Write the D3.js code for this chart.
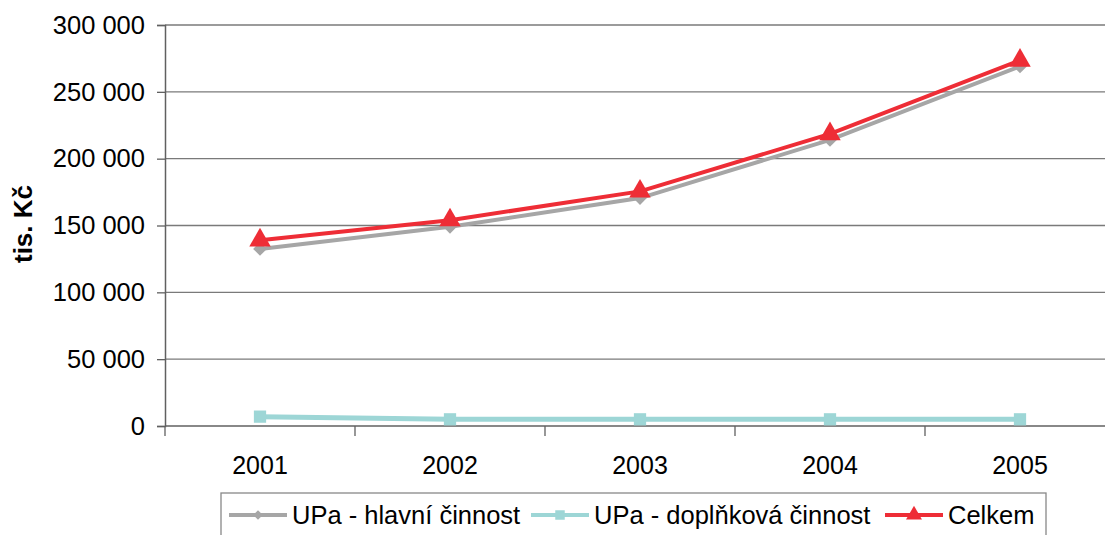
<!DOCTYPE html>
<meta charset="utf-8">
<style>
  body { margin: 0; background: #fff; }
  text { font-family: "Liberation Sans", Arial, sans-serif; fill: #000; }
</style>
<script src="https://d3js.org/d3.v7.min.js"></script>
<div id="chart"></div>
<script>
  // data
  var years = ["2001", "2002", "2003", "2004", "2005"]
  var hlavni = [132500, 149000, 170500, 214000, 269000]
  var doplnkova = [7000, 5000, 5000, 5000, 5000]
  var celkem = [139000, 154000, 175500, 218500, 273500]
  var yTicks = [0, 50000, 100000, 150000, 200000, 250000, 300000]
  var seriesNames = ["UPa - hlavní činnost", "UPa - doplňková činnost", "Celkem"]

  var width = 1105, height = 535
  var plotLeft = 165, plotRight = 1115, plotTop = 25, plotBottom = 426

  var svg = d3.select("#chart").append("svg")
    .attr("width", width)
    .attr("height", height)

  var x = d3.scaleBand().domain(years).range([plotLeft, plotRight]).padding(0)
  var y = d3.scaleLinear().domain([0, 300000]).range([plotBottom, plotTop])

  var fmt = function (d) { return d3.format(",")(d).replace(/,/g, " ") }

  // horizontal grid lines
  svg.append("g")
    .selectAll("line")
    .data(yTicks.filter(function (d) { return d > 0 }))
    .enter().append("line")
      .attr("x1", plotLeft).attr("x2", width)
      .attr("y1", function (d) { return y(d) }).attr("y2", function (d) { return y(d) })
      .attr("stroke", "#7a7a7a")
      .attr("stroke-width", 1.3)

  // y axis
  var yAxis = svg.append("g")
    .attr("transform", "translate(" + plotLeft + ",0)")
    .call(d3.axisLeft(y).tickValues(yTicks).tickFormat(fmt).tickSize(8).tickPadding(12))
  yAxis.select(".domain").attr("stroke", "#606060").attr("stroke-width", 1.5)
  yAxis.selectAll(".tick line").attr("stroke", "#606060").attr("stroke-width", 1.3)
  yAxis.selectAll("text")
    .style("font-size", "25.5px")
    .style("font-family", "'Liberation Sans', Arial, sans-serif")
    .attr("fill", "#000")

  // x axis line + ticks at category boundaries
  svg.append("line")
    .attr("x1", plotLeft).attr("x2", width)
    .attr("y1", plotBottom).attr("y2", plotBottom)
    .attr("stroke", "#606060").attr("stroke-width", 1.5)
  svg.append("g")
    .selectAll("line")
    .data(years.concat(["end"]))
    .enter().append("line")
      .attr("x1", function (d) { return d === "end" ? plotRight : x(d) })
      .attr("x2", function (d) { return d === "end" ? plotRight : x(d) })
      .attr("y1", plotBottom).attr("y2", plotBottom + 10)
      .attr("stroke", "#606060").attr("stroke-width", 1.3)

  svg.append("g")
    .selectAll("text")
    .data(years)
    .enter().append("text")
      .attr("x", function (d) { return x(d) + x.bandwidth() / 2 })
      .attr("y", 474)
      .attr("text-anchor", "middle")
      .style("font-size", "25px")
      .text(function (d) { return d })

  // axis title
  svg.append("text")
    .attr("transform", "translate(32,224) rotate(-90)")
    .attr("text-anchor", "middle")
    .style("font-size", "26px")
    .style("font-weight", "bold")
    .text("tis. Kč")

  var cx = function (i) { return x(years[i]) + x.bandwidth() / 2 }
  var line = d3.line()
    .x(function (d, i) { return cx(i) })
    .y(function (d) { return y(d) })

  var diamond = d3.symbol().type(d3.symbolDiamond2).size(120)
  var square = d3.symbol().type(d3.symbolSquare).size(150)
  var triangle = d3.symbol().type(d3.symbolTriangle).size(200)

  var series = [
    { values: hlavni, color: "#a6a6a6", width: 4, sym: diamond },
    { values: doplnkova, color: "#9dd6d6", width: 5, sym: square },
    { values: celkem, color: "#ee2d36", width: 4, sym: triangle }
  ]

  series.forEach(function (s) {
    svg.append("path")
      .datum(s.values)
      .attr("d", line)
      .attr("fill", "none")
      .attr("stroke", s.color)
      .attr("stroke-width", s.width)
    svg.append("g")
      .selectAll("path")
      .data(s.values)
      .enter().append("path")
        .attr("d", s.sym)
        .attr("transform", function (d, i) { return "translate(" + cx(i) + "," + y(d) + ")" })
        .attr("fill", s.color)
  })

  // legend
  var legend = svg.append("g")
  legend.append("rect")
    .attr("x", 221).attr("y", 493)
    .attr("width", 825).attr("height", 60)
    .attr("fill", "#fff")
    .attr("stroke", "#888")
    .attr("stroke-width", 1.3)

  var legendX = [229, 531, 885]
  var legendSyms = [
    d3.symbol().type(d3.symbolDiamond2).size(60),
    d3.symbol().type(d3.symbolSquare).size(90),
    d3.symbol().type(d3.symbolTriangle).size(110)
  ]
  seriesNames.forEach(function (name, i) {
    var g = legend.append("g").attr("transform", "translate(" + legendX[i] + ",515)")
    g.append("line")
      .attr("x1", 0).attr("x2", 58)
      .attr("stroke", series[i].color)
      .attr("stroke-width", 4)
    g.append("path")
      .attr("d", legendSyms[i])
      .attr("transform", "translate(29,0)")
      .attr("fill", series[i].color)
    g.append("text")
      .attr("x", 63)
      .attr("y", 9)
      .style("font-size", "25.5px")
      .text(name)
  })
</script>
